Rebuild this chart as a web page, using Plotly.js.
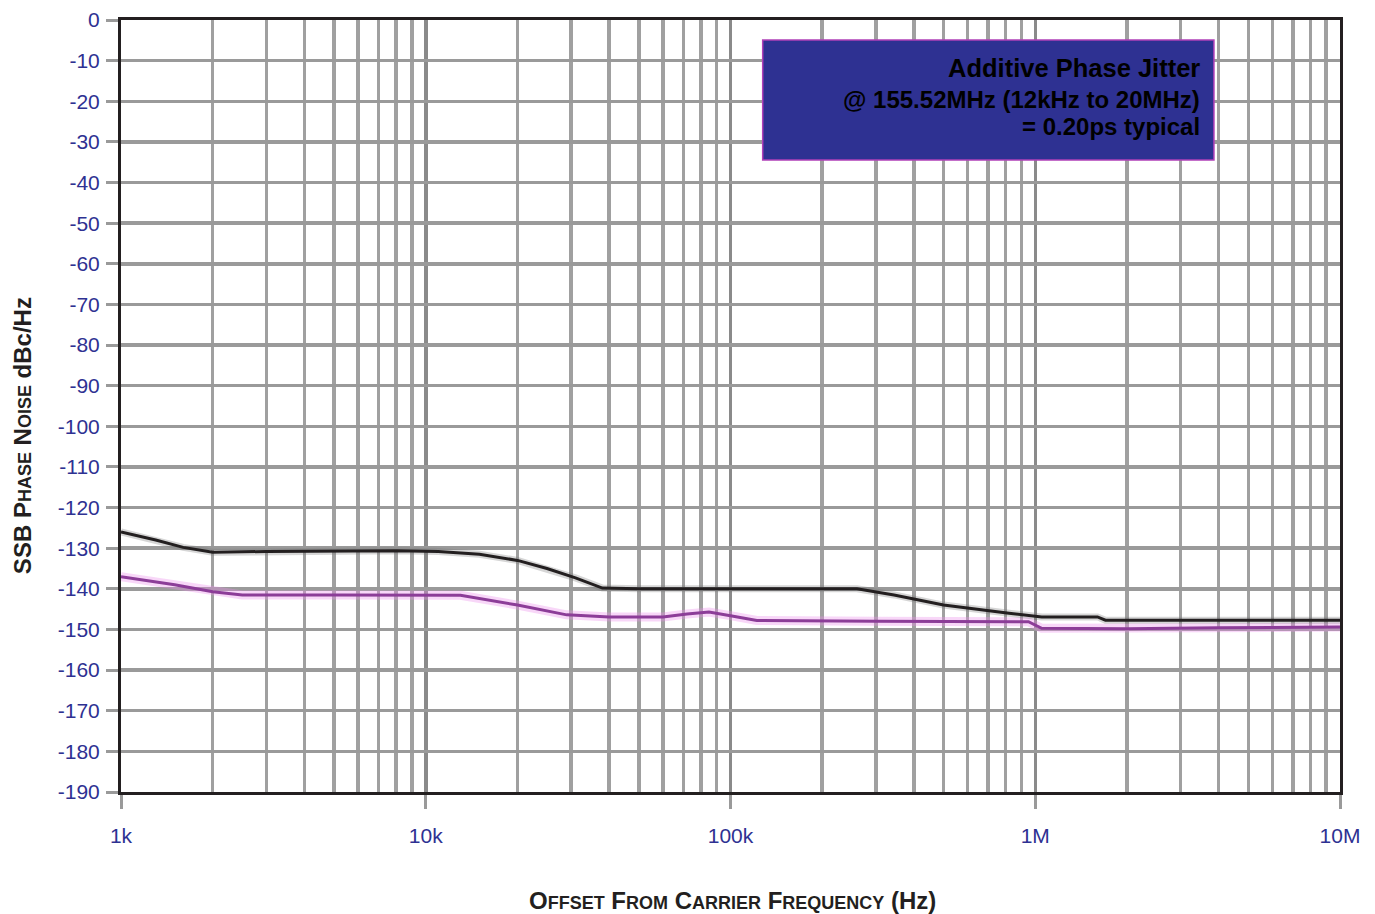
<!DOCTYPE html>
<html>
<head>
<meta charset="utf-8">
<script src="https://cdn.plot.ly/plotly-3.0.1.min.js"></script>
<style>
html,body{margin:0;padding:0;background:#fff;}
#chart{width:1375px;height:914px;}
</style>
</head>
<body>
<div id="chart"></div>
<script>
// ---- data ----
var upperFreq = [1000, 1300, 1600, 2000, 3000, 5000, 8000, 11000, 15000, 20000, 25000, 31000, 38000, 50000, 100000, 200000, 260000, 344000, 500000, 820000, 950000, 1050000, 1600000, 1700000, 3000000, 10000000];
var upperDb   = [-126, -128, -129.8, -131, -130.8, -130.6, -130.6, -130.8, -131.5, -133, -135, -137.3, -139.8, -140, -140, -140, -140, -141.5, -144, -146, -146.5, -146.9, -146.9, -147.7, -147.7, -147.7];

var lowerFreq = [1000, 1500, 2000, 2500, 5000, 10000, 13000, 20000, 29000, 40000, 60000, 72000, 85000, 100000, 122000, 300000, 950000, 1050000, 2000000, 4000000, 10000000];
var lowerDb   = [-137, -139, -140.7, -141.5, -141.5, -141.5, -141.6, -144, -146.4, -146.9, -146.9, -146.2, -145.7, -146.6, -147.8, -148, -148.1, -149.7, -149.8, -149.6, -149.4];

var xTickVals = [1000, 10000, 100000, 1000000, 10000000];
var xTickText = ['1k', '10k', '100k', '1M', '10M'];
var yTickVals = [0, -10, -20, -30, -40, -50, -60, -70, -80, -90, -100, -110, -120, -130, -140, -150, -160, -170, -180, -190];
var yTickText = ['0', '-10', '-20', '-30', '-40', '-50', '-60', '-70', '-80', '-90', '-100', '-110', '-120', '-130', '-140', '-150', '-160', '-170', '-180', '-190'];

var boxLines = ['Additive Phase Jitter', '@ 155.52MHz (12kHz to 20MHz)', '= 0.20ps typical'];

var sc = '<span style="font-size:18px">';
var xTitle = 'O' + sc + 'FFSET</span> F' + sc + 'ROM</span> C' + sc + 'ARRIER</span> F' + sc + 'REQUENCY</span> (Hz)';
var yTitle = 'SSB P' + sc + 'HASE</span> N' + sc + 'OISE</span> dBc/Hz';

// ---- traces ----
var traces = [
  {x: lowerFreq, y: lowerDb, mode: 'lines', line: {color: 'rgba(235,140,235,0.35)', width: 9}, hoverinfo: 'skip', showlegend: false},
  {x: upperFreq, y: upperDb, mode: 'lines', line: {color: 'rgba(120,120,120,0.3)', width: 7}, hoverinfo: 'skip', showlegend: false},
  {x: lowerFreq, y: lowerDb, mode: 'lines', line: {color: '#8c3d98', width: 3}, showlegend: false},
  {x: upperFreq, y: upperDb, mode: 'lines', line: {color: '#231f20', width: 3}, showlegend: false}
];

var tickFont = {family: '"Liberation Sans", Arial, sans-serif', size: 21, color: '#2e3192'};
var titleFont = {family: '"Liberation Sans", Arial, sans-serif', size: 24, color: '#231f20', weight: 'bold'};

var layout = {
  width: 1375, height: 914,
  margin: {l: 121, r: 35, t: 20, b: 122, pad: 0},
  paper_bgcolor: '#ffffff',
  plot_bgcolor: '#ffffff',
  showlegend: false,
  xaxis: {
    type: 'log',
    range: [3, 7],
    tickvals: xTickVals,
    ticktext: xTickText,
    tickfont: tickFont,
    ticks: 'outside', ticklen: 14, tickwidth: 3, tickcolor: '#9a9a9a',
    ticklabelstandoff: 9,
    showgrid: true, gridcolor: '#8a8a8a', gridwidth: 3.5,
    minor: {showgrid: true, gridcolor: '#a0a0a0', gridwidth: 3.5, dtick: 'D1', ticks: ''},
    showline: true, linecolor: '#231f20', linewidth: 3, mirror: true,
    zeroline: false, fixedrange: true
  },
  yaxis: {
    range: [-190, 0],
    tickvals: yTickVals,
    ticktext: yTickText,
    tickfont: tickFont,
    ticks: 'outside', ticklen: 12, tickwidth: 3, tickcolor: '#9a9a9a',
    ticklabelstandoff: 2,
    showgrid: true, gridcolor: '#9a9a9a', gridwidth: 3.5,
    showline: true, linecolor: '#231f20', linewidth: 3, mirror: true,
    zeroline: false, fixedrange: true
  },
  shapes: [
    {type: 'rect', xref: 'paper', yref: 'paper', x0: 0.5264, x1: 0.8966, y0: 0.8187, y1: 0.9741,
     fillcolor: '#2e3192', line: {color: '#b040b8', width: 1.5}, layer: 'above'}
  ],
  annotations: [
    {xref: 'paper', yref: 'paper', x: 0.8872, y: 0.9382, xanchor: 'right', yanchor: 'middle', showarrow: false,
     text: boxLines[0], font: {family: '"Liberation Sans", Arial, sans-serif', size: 25.5, color: '#000000', weight: 'bold'}},
    {xref: 'paper', yref: 'paper', x: 0.8872, y: 0.8968, xanchor: 'right', yanchor: 'middle', showarrow: false,
     text: boxLines[1], font: {family: '"Liberation Sans", Arial, sans-serif', size: 24, color: '#000000', weight: 'bold'}},
    {xref: 'paper', yref: 'paper', x: 0.8872, y: 0.8614, xanchor: 'right', yanchor: 'middle', showarrow: false,
     text: boxLines[2], font: {family: '"Liberation Sans", Arial, sans-serif', size: 24, color: '#000000', weight: 'bold'}},
    {xref: 'paper', yref: 'paper', x: 0.502, y: -0.14, xanchor: 'center', yanchor: 'middle', showarrow: false,
     text: xTitle, font: titleFont},
    {xref: 'paper', yref: 'paper', x: -0.0812, y: 0.461, xanchor: 'center', yanchor: 'middle', showarrow: false,
     textangle: -90, text: yTitle, font: titleFont}
  ]
};

Plotly.newPlot('chart', traces, layout, {displayModeBar: false, staticPlot: true});
</script>
</body>
</html>
